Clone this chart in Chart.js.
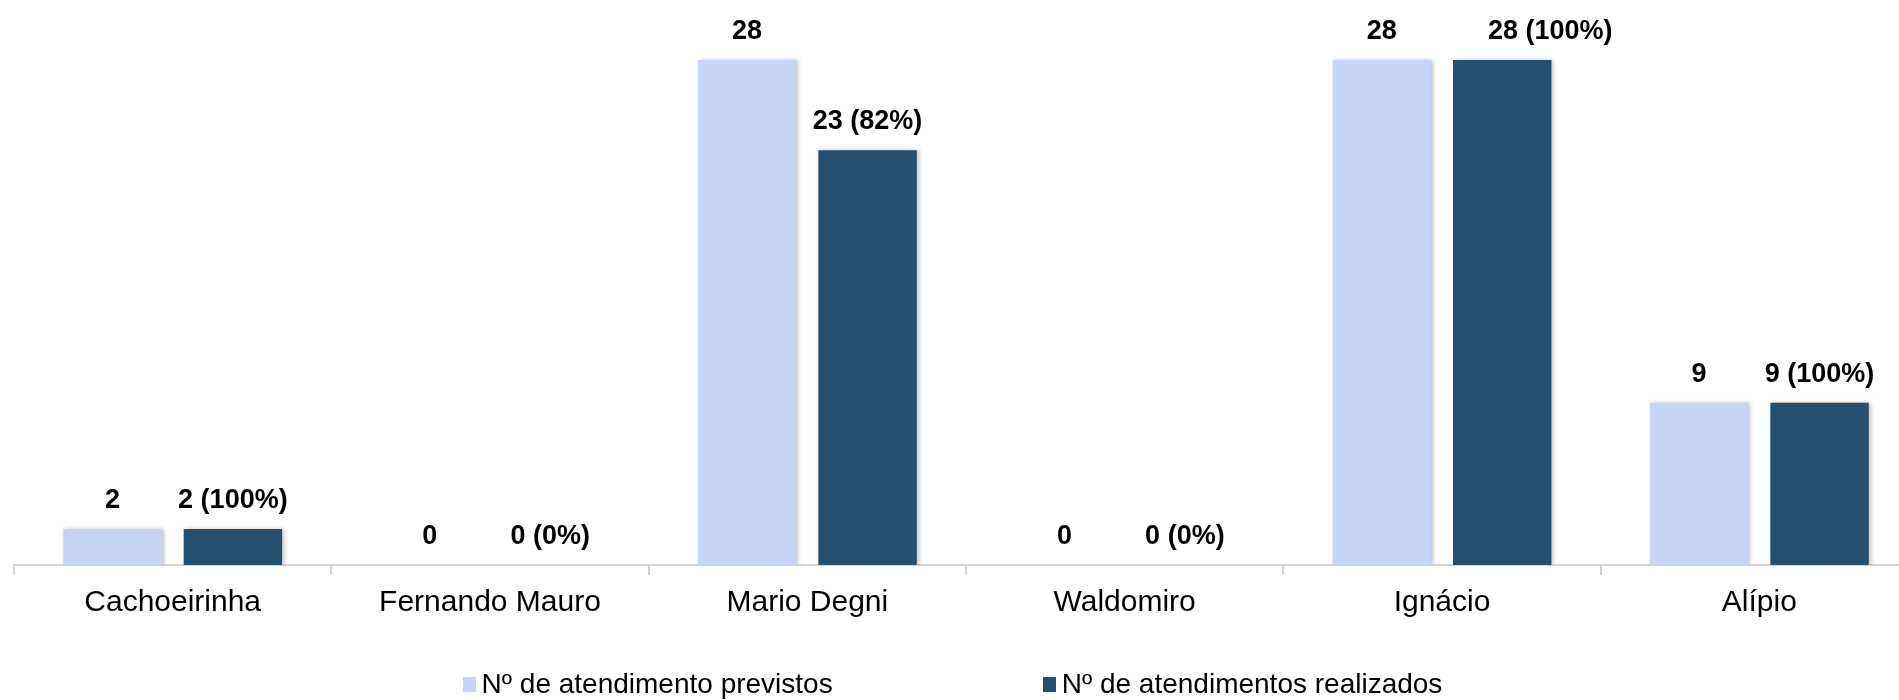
<!DOCTYPE html>
<html>
<head>
<meta charset="utf-8">
<script src="https://cdn.jsdelivr.net/npm/chart.js@4/dist/chart.umd.min.js"></script>
<style>
  html, body { margin: 0; padding: 0; background: #fff; overflow: hidden; }
  #wrap { position: relative; width: 1920px; height: 700px; }
  #legend {
    position: absolute; left: 0; top: 668px; width: 1905px;
    display: flex; justify-content: center; gap: 210px;
    font-family: "Liberation Sans", Arial, sans-serif; font-size: 28px; color: #000;
  }
  .item { display: flex; align-items: center; }
  .box { display: inline-block; width: 13px; height: 15px; margin-right: 6px; }
</style>
</head>
<body>
<div id="wrap">
  <canvas id="chart"></canvas>
  <div id="legend"></div>
</div>
<script>
const categories = ['Cachoeirinha', 'Fernando Mauro', 'Mario Degni', 'Waldomiro', 'Ignácio', 'Alípio'];
const previstos = [2, 0, 28, 0, 28, 9];
const realizados = [2, 0, 23, 0, 28, 9];
const seriesNames = ['Nº de atendimento previstos', 'Nº de atendimentos realizados'];
const colors = ['#c8d4f5', '#264e6e'];

// percentage of realizados over previstos
function pctLabel(i) {
    const p = previstos[i] ? Math.round(realizados[i] / previstos[i] * 100) : 0;
    return realizados[i] + ' (' + p + '%)';
}

// value labels above bars (the Ignácio one sits a bit to the right in the original)
const valueLabels = {
    id: 'valueLabels',
    afterDatasetsDraw(chart) {
        const ctx = chart.ctx;
        ctx.save();
        ctx.font = 'bold 27px "Liberation Sans", Arial, sans-serif';
        ctx.fillStyle = '#000';
        ctx.textAlign = 'center';
        ctx.textBaseline = 'alphabetic';
        chart.data.datasets.forEach((ds, d) => {
            chart.getDatasetMeta(d).data.forEach((bar, i) => {
                const txt = d === 0 ? String(ds.data[i]) : pctLabel(i);
                const dx = (d === 1 && i === 4) ? 48 : 0;
                ctx.fillText(txt, bar.x + dx, bar.y - 21);
            });
        });
        ctx.restore();
    }
};

// soft shadow behind bars
const barShadow = {
    id: 'barShadow',
    beforeDatasetsDraw(chart) {
        const ctx = chart.ctx;
        ctx.save();
        ctx.shadowColor = 'rgba(0,0,0,0.25)';
        ctx.shadowBlur = 4;
        ctx.shadowOffsetX = 2;
        ctx.shadowOffsetY = 0;
    },
    afterDatasetsDraw(chart) {
        chart.ctx.restore();
    }
};

const ctx = document.getElementById('chart').getContext('2d');
new Chart(ctx, {
    type: 'bar',
    data: {
        labels: categories,
        datasets: [
            { label: seriesNames[0], data: previstos, backgroundColor: colors[0] },
            { label: seriesNames[1], data: realizados, backgroundColor: colors[1] }
        ]
    },
    options: {
        responsive: true,
        maintainAspectRatio: false,
        animation: false,
        categoryPercentage: 0.759,
        barPercentage: 0.817,
        layout: { padding: { left: 14, right: 2, top: 6, bottom: 69 } },
        plugins: {
            legend: { display: false },
            tooltip: { enabled: false }
        },
        scales: {
            x: {
                grid: {
                    drawOnChartArea: false,
                    color: '#d4d4d4',
                    lineWidth: 2,
                    tickLength: 10
                },
                border: { color: '#d4d4d4', width: 2 },
                ticks: {
                    color: '#000',
                    padding: 10,
                    font: { family: '"Liberation Sans", Arial, sans-serif', size: 30 }
                }
            },
            y: {
                display: false,
                min: 0,
                max: 31
            }
        }
    },
    plugins: [barShadow, valueLabels]
});

// custom HTML legend
const legend = document.getElementById('legend');
seriesNames.forEach((name, i) => {
    const item = document.createElement('span');
    item.className = 'item';
    item.innerHTML = '<span class="box" style="background:' + colors[i] + '"></span>' + name;
    legend.appendChild(item);
});
</script>
</body>
</html>
